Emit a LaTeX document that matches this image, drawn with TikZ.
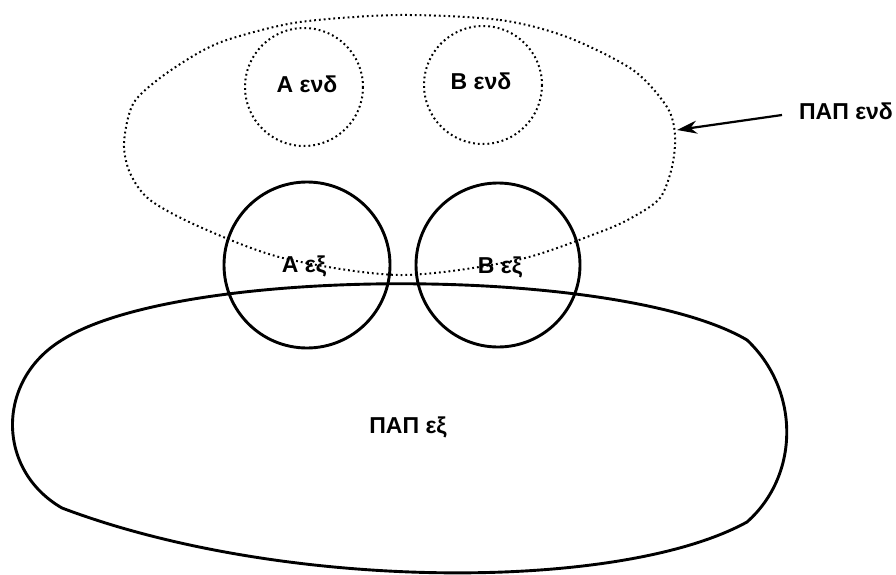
\documentclass[tikz,border=0pt]{standalone}
\usepackage{fontspec}
\setmainfont{Liberation Sans}
\usetikzlibrary{arrows.meta}
\begin{document}
\begin{tikzpicture}[x=1pt,y=-1pt,
  lbl/.style={font=\fontsize{23}{26}\selectfont\bfseries, inner sep=0pt, anchor=base},
  dotline/.style={line width=2pt, dash pattern=on 1.8pt off 3pt},
  solidline/.style={line width=2.9pt},
  pointer/.style={line width=2.2pt, -{Stealth[length=20pt,width=13pt]}}]
\useasboundingbox (0,0) rectangle (896,575);
% inner (dotted) universe
\draw[dotline] plot[smooth cycle] coordinates {(400,15) (500,20) (567,37) (633,70) (667,107) (675,135) (672,167) (660,198) (633,217) (600,232) (517,260) (400,275) (283,258) (200,227) (150,200) (130,173) (124,143) (133,104) (160,78) (200,52) (233,38) (300,22)};
% dotted circles
\draw[dotline] (304,87) circle[radius=59];
\draw[dotline] (483,85) circle[radius=59];
% solid circles
\draw[solidline] (307,265) circle[radius=83];
\draw[solidline] (498,265) circle[radius=82];
% outer blob
\draw[solidline] (62,340) .. controls (180,265) and (620,265) .. (747,340)
  .. controls (800,390) and (800,475) .. (747,522)
  .. controls (620,592) and (284,592) .. (62,508)
  .. controls (-4,470) and (-4,380) .. cycle;
% labels
\node[lbl] (aend) at (307,93) {A ενδ};
\node[lbl] (bend) at (481,90) {B ενδ};
\node[lbl] (aex) at (304,272) {A εξ};
\node[lbl] (bex) at (500,273) {B εξ};
\node[lbl] (papex) at (408,433) {ΠΑΠ εξ};
\node[lbl] (papend) at (846,120) {ΠΑΠ ενδ};
\coordinate (tail) at (782,115);
\coordinate (tip) at (677,130);
\draw[pointer] (tail) -- (tip);
\end{tikzpicture}
\end{document}
